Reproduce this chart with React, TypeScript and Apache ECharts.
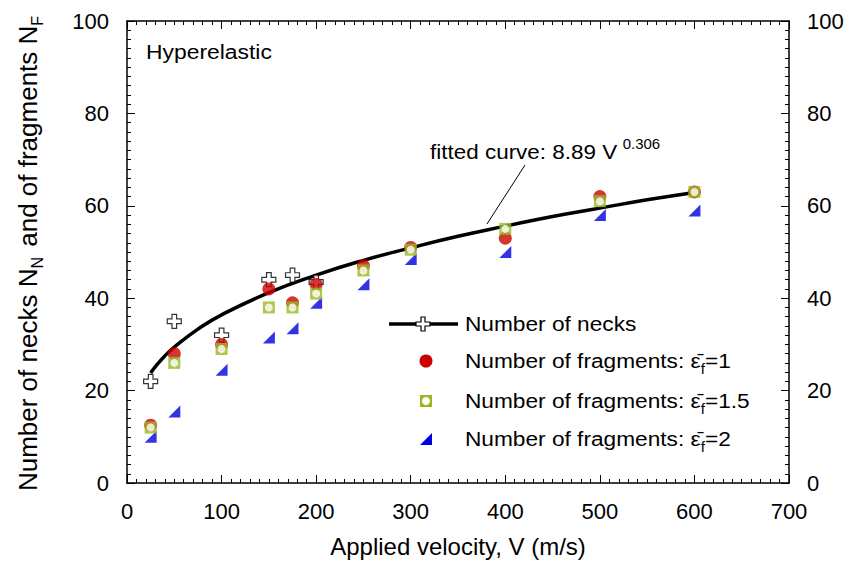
import React, { useEffect, useRef } from "react";
import * as echarts from "echarts";

// ---- data ----
const xTicks = [0, 100, 200, 300, 400, 500, 600, 700];
const yTicks = [0, 20, 40, 60, 80, 100];

// fitted curve (8.89 V^0.306)
const curveV = [25, 30, 40, 50, 75, 100, 150, 200, 250, 300, 350, 400, 450, 500, 550, 600];
const curveN = [23.8, 25.2, 27.5, 29.4, 33.3, 36.4, 41.2, 45.0, 48.2, 50.9, 53.4, 55.6, 57.7, 59.5, 61.3, 62.9];

const neckV = [25, 50, 100, 150, 175, 200];
const necks = [22, 35, 32, 44, 45, 43.5];

const fragV = [25, 50, 100, 150, 175, 200, 250, 300, 400, 500, 600];
const frag1 = [12.5, 28, 30, 42, 39, 43, 47, 51, 53, 62, 63];
const frag15 = [12, 26, 29, 38, 38, 41, 46, 50.5, 55, 61, 63];
const frag2 = [10, 15.5, 24.5, 31.5, 33.5, 39, 43, 48.5, 50, 58, 59];

const FONT = "Liberation Sans, Arial, sans-serif";
const RED = "#cc0000";
const GREEN = "#99b924";
const BLUE = "#0000e0";

const pair = (xs: number[], ys: number[]) => xs.map((x, i) => [x, ys[i]]);

const CROSS = "path://M3,0 H6 V3 H9 V6 H6 V9 H3 V6 H0 V3 H3 Z";
const TRI = "path://M10,0 L10,10 L0,10 Z";

export default function App() {
  const ref = useRef<HTMLDivElement>(null);
  useEffect(() => {
    document.body.style.margin = "0";
    const chart = echarts.init(ref.current!, null, { renderer: "svg" });
    const axisLine = { show: true, onZero: false, lineStyle: { color: "#000", width: 1.5 } };
    const tick = { show: true, inside: true, length: 8, lineStyle: { color: "#000", width: 1 } };
    const minor = (n: number) => ({ show: true, splitNumber: n, length: 4, lineStyle: { color: "#000", width: 1 } });
    const lbl = { color: "#000", fontSize: 22, fontFamily: FONT };

    const legendRows = [
      { y: 324, text: "{a|Number of necks}" },
      { y: 361, text: "{a|Number of fragments: ε̄}{s|f}{a|=1}" },
      { y: 401, text: "{a|Number of fragments: ε̄}{s|f}{a|=1.5}" },
      { y: 439, text: "{a|Number of fragments: ε̄}{s|f}{a|=2}" },
    ];
    const richLegend = {
      a: { fontSize: 21, fontFamily: FONT, color: "#000", lineHeight: 30, verticalAlign: "middle" },
      s: { fontSize: 14, fontFamily: FONT, color: "#000", lineHeight: 14, verticalAlign: "bottom", padding: [12, 0, 0, 0] },
    };

    chart.setOption({
      animation: false,
      backgroundColor: "#fff",
      grid: { left: 127, right: 60, top: 21, bottom: 89, containLabel: false },
      xAxis: [
        {
          type: "value", min: xTicks[0], max: xTicks[xTicks.length - 1], interval: 100, position: "bottom",
          axisLine, axisTick: tick, minorTick: minor(10), splitLine: { show: false },
          axisLabel: { ...lbl, margin: 17 },
          name: "Applied velocity, V (m/s)", nameLocation: "middle", nameGap: 51,
          nameTextStyle: { color: "#000", fontSize: 24, fontFamily: FONT },
        },
        {
          type: "value", min: xTicks[0], max: xTicks[xTicks.length - 1], interval: 100, position: "top",
          axisLine, axisTick: tick, minorTick: minor(10), splitLine: { show: false },
          axisLabel: { show: false },
        },
      ],
      yAxis: [
        {
          type: "value", min: yTicks[0], max: yTicks[yTicks.length - 1], interval: 20, position: "left",
          axisLine, axisTick: tick, minorTick: minor(10), splitLine: { show: false },
          axisLabel: { ...lbl, margin: 18 },
          name: "{a|Number of necks N}{s|N}{a| and of fragments N}{s|F}",
          nameLocation: "middle", nameRotate: 90, nameGap: 82,
          nameTextStyle: {
            rich: {
              a: { fontSize: 26, fontFamily: FONT, color: "#000", lineHeight: 34, verticalAlign: "middle" },
              s: { fontSize: 16, fontFamily: FONT, color: "#000", lineHeight: 16, verticalAlign: "bottom", padding: [10, 3, 0, 0] },
            },
          },
        },
        {
          type: "value", min: yTicks[0], max: yTicks[yTicks.length - 1], interval: 20, position: "right",
          axisLine, axisTick: tick, minorTick: minor(10), splitLine: { show: false },
          axisLabel: { ...lbl, margin: 18 },
        },
      ],
      series: [
        {
          name: "fit", type: "line", data: pair(curveV, curveN), smooth: true, showSymbol: false, symbol: "none",
          lineStyle: { color: "#000", width: 3.5 }, z: 2,
        },
        {
          name: "Number of necks", type: "scatter", data: pair(neckV, necks), symbol: CROSS, symbolSize: 14,
          itemStyle: { color: "#fff", borderColor: "#000", borderWidth: 1.2 }, z: 3,
        },
        {
          name: "frag2", type: "scatter", data: pair(fragV, frag2), symbol: TRI, symbolSize: 12,
          itemStyle: { color: BLUE }, z: 3,
        },
        {
          name: "frag1", type: "scatter", data: pair(fragV, frag1), symbol: "circle", symbolSize: 13,
          itemStyle: { color: RED }, z: 3,
        },
        {
          name: "frag15", type: "scatter", data: pair(fragV, frag15), symbol: "rect", symbolSize: 12,
          itemStyle: { color: GREEN }, z: 3,
        },
        {
          name: "frag15in", type: "scatter", data: pair(fragV, frag15), symbol: "circle", symbolSize: 8,
          itemStyle: { color: "#fff" }, z: 3, silent: true,
        },
      ],
      graphic: [
        {
          type: "text", x: 146, y: 52, scaleX: 1.09,
          style: { text: "Hyperelastic", fontSize: 21, fontFamily: FONT, fill: "#000", verticalAlign: "middle" },
        },
        {
          type: "text", x: 430, y: 152, scaleX: 1.07,
          style: {
            text: "{a|fitted curve: 8.89 V}{p|0.306}",
            verticalAlign: "middle",
            rich: {
              a: { fontSize: 21, fontFamily: FONT, color: "#000", lineHeight: 30, verticalAlign: "middle" },
              p: { fontSize: 14, fontFamily: FONT, color: "#000", lineHeight: 14, verticalAlign: "top", padding: [0, 0, 0, 5] },
            },
          },
        },
        { type: "line", shape: { x1: 525, y1: 165, x2: 487, y2: 224 }, style: { stroke: "#000", lineWidth: 1 } },
        // legend icons
        { type: "line", shape: { x1: 389, y1: 324, x2: 458, y2: 324 }, style: { stroke: "#000", lineWidth: 3.5 } },
        {
          type: "polygon",
          shape: { points: [[421, 317], [425, 317], [425, 322], [430, 322], [430, 326], [425, 326], [425, 331], [421, 331], [421, 326], [416, 326], [416, 322], [421, 322]] },
          style: { fill: "#fff", stroke: "#000", lineWidth: 1.2 },
        },
        { type: "circle", shape: { cx: 426, cy: 361, r: 6.5 }, style: { fill: RED } },
        { type: "rect", shape: { x: 420, y: 395, width: 12, height: 12 }, style: { fill: GREEN } },
        { type: "circle", shape: { cx: 426, cy: 401, r: 4 }, style: { fill: "#fff" } },
        { type: "polygon", shape: { points: [[420, 445], [432, 445], [432, 433]] }, style: { fill: BLUE } },
        ...legendRows.map((r) => ({
          type: "text", x: 465, y: r.y, scaleX: 1.08,
          style: { text: r.text, verticalAlign: "middle", rich: richLegend },
        })),
      ],
    });
    return () => chart.dispose();
  }, []);
  return <div ref={ref} style={{ width: 849, height: 572 }} />;
}
